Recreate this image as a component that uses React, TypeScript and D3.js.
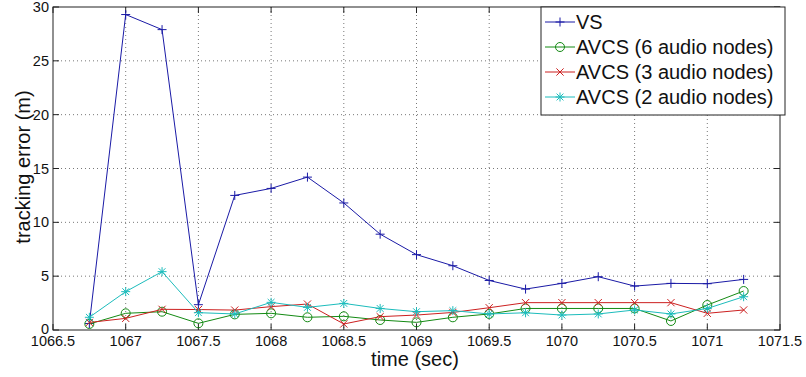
import React from "react";
import * as d3 from "d3";

const times = [1066.75, 1067, 1067.25, 1067.5, 1067.75, 1068, 1068.25, 1068.5, 1068.75, 1069, 1069.25, 1069.5, 1069.75, 1070, 1070.25, 1070.5, 1070.75, 1071, 1071.25];
const vs = [0.6, 29.3, 27.9, 2.35, 12.5, 13.15, 14.2, 11.8, 8.9, 7.0, 5.97, 4.6, 3.8, 4.33, 4.95, 4.08, 4.33, 4.3, 4.7];
const avcs6 = [0.56, 1.55, 1.7, 0.62, 1.45, 1.55, 1.18, 1.27, 0.93, 0.71, 1.18, 1.49, 2.0, 2.0, 2.0, 2.0, 0.84, 2.32, 3.62];
const avcs3 = [0.7, 1.08, 1.92, 1.9, 1.85, 2.17, 2.41, 0.56, 1.24, 1.39, 1.63, 2.07, 2.54, 2.54, 2.54, 2.54, 2.54, 1.55, 1.86];
const avcs2 = [1.18, 3.56, 5.42, 1.61, 1.49, 2.57, 2.1, 2.47, 2.0, 1.7, 1.8, 1.49, 1.6, 1.39, 1.49, 1.86, 1.49, 2.0, 3.09];
const xTicks = [1066.5, 1067, 1067.5, 1068, 1068.5, 1069, 1069.5, 1070, 1070.5, 1071, 1071.5];
const yTicks = [0, 5, 10, 15, 20, 25, 30];
const seriesNames = ["VS", "AVCS (6 audio nodes)", "AVCS (3 audio nodes)", "AVCS (2 audio nodes)"];

const colors = ["#1a1aa6", "#138a13", "#cc2020", "#1cbcbc"];
const markers = ["plus", "circle", "cross", "star"];

const L = 53, R = 780, T = 7, B = 330;
const FONT = "'Liberation Sans', Arial, sans-serif";

function Marker({ type, x, y, color }: { type: string; x: number; y: number; color: string }) {
  const s = 4.5;
  if (type === "plus") {
    return <path d={`M${x - s},${y}H${x + s}M${x},${y - s}V${y + s}`} stroke={color} strokeWidth={1} fill="none" />;
  }
  if (type === "circle") {
    return <circle cx={x} cy={y} r={4.5} stroke={color} strokeWidth={1} fill="none" />;
  }
  if (type === "cross") {
    const c = 3.6;
    return <path d={`M${x - c},${y - c}L${x + c},${y + c}M${x - c},${y + c}L${x + c},${y - c}`} stroke={color} strokeWidth={1} fill="none" />;
  }
  const c = 3.4;
  return (
    <path
      d={`M${x - s},${y}H${x + s}M${x},${y - s}V${y + s}M${x - c},${y - c}L${x + c},${y + c}M${x - c},${y + c}L${x + c},${y - c}`}
      stroke={color}
      strokeWidth={1}
      fill="none"
    />
  );
}

export default function App() {
  const x = d3.scaleLinear().domain([1066.5, 1071.5]).range([L, R]);
  const y = d3.scaleLinear().domain([0, 30]).range([B, T]);
  const data = [vs, avcs6, avcs3, avcs2];
  const line = d3
    .line<number>()
    .x((_, i) => x(times[i]))
    .y((d) => y(d));

  const legX = 541, legY = 7, legW = 244, legH = 108;
  const rowY = [22, 47, 72, 97];

  return (
    <svg width={806} height={377} style={{ position: "absolute", left: 0, top: 0, background: "#fff" }}>
      <rect x={0} y={0} width={806} height={377} fill="#fff" />
      {xTicks.slice(1, -1).map((t) => (
        <line key={"gx" + t} x1={x(t)} x2={x(t)} y1={T} y2={B} stroke="#555" strokeWidth={0.8} strokeDasharray="1,3" />
      ))}
      {yTicks.slice(1, -1).map((t) => (
        <line key={"gy" + t} x1={L} x2={R} y1={y(t)} y2={y(t)} stroke="#555" strokeWidth={0.8} strokeDasharray="1,3" />
      ))}
      {xTicks.map((t) => (
        <g key={"tx" + t}>
          <line x1={x(t)} x2={x(t)} y1={B} y2={B - 6} stroke="#222" />
          <line x1={x(t)} x2={x(t)} y1={T} y2={T + 6} stroke="#222" />
          <text x={x(t)} y={346} textAnchor="middle" fontFamily={FONT} fontSize={14.5} fill="#111">
            {t}
          </text>
        </g>
      ))}
      {yTicks.map((t) => (
        <g key={"ty" + t}>
          <line x1={L} x2={L + 6} y1={y(t)} y2={y(t)} stroke="#222" />
          <line x1={R} x2={R - 6} y1={y(t)} y2={y(t)} stroke="#222" />
          <text x={49} y={y(t) + (t === 0 ? 3.5 : 5)} textAnchor="end" fontFamily={FONT} fontSize={14.5} fill="#111">
            {t}
          </text>
        </g>
      ))}
      {data.map((d, si) => (
        <g key={"s" + si}>
          <path d={line(d) || ""} stroke={colors[si]} strokeWidth={1} fill="none" />
          {d.map((v, i) => (
            <Marker key={i} type={markers[si]} x={x(times[i])} y={y(v)} color={colors[si]} />
          ))}
        </g>
      ))}
      <rect x={L} y={T} width={R - L} height={B - T} fill="none" stroke="#222" strokeWidth={1} />
      <rect x={legX} y={legY} width={legW} height={legH} fill="#fff" stroke="#222" strokeWidth={1} />
      {seriesNames.map((n, i) => (
        <g key={"l" + i}>
          <line x1={545} x2={575} y1={rowY[i]} y2={rowY[i]} stroke={colors[i]} strokeWidth={1} />
          <Marker type={markers[i]} x={560} y={rowY[i]} color={colors[i]} />
          <text x={576} y={rowY[i] + 7} fontFamily={FONT} fontSize={20} fill="#111">
            {n}
          </text>
        </g>
      ))}
      <text x={415} y={366} textAnchor="middle" fontFamily={FONT} fontSize={20} fill="#111">
        time (sec)
      </text>
      <text transform={`translate(30,167) rotate(-90)`} textAnchor="middle" fontFamily={FONT} fontSize={20} fill="#111">
        tracking error (m)
      </text>
    </svg>
  );
}
